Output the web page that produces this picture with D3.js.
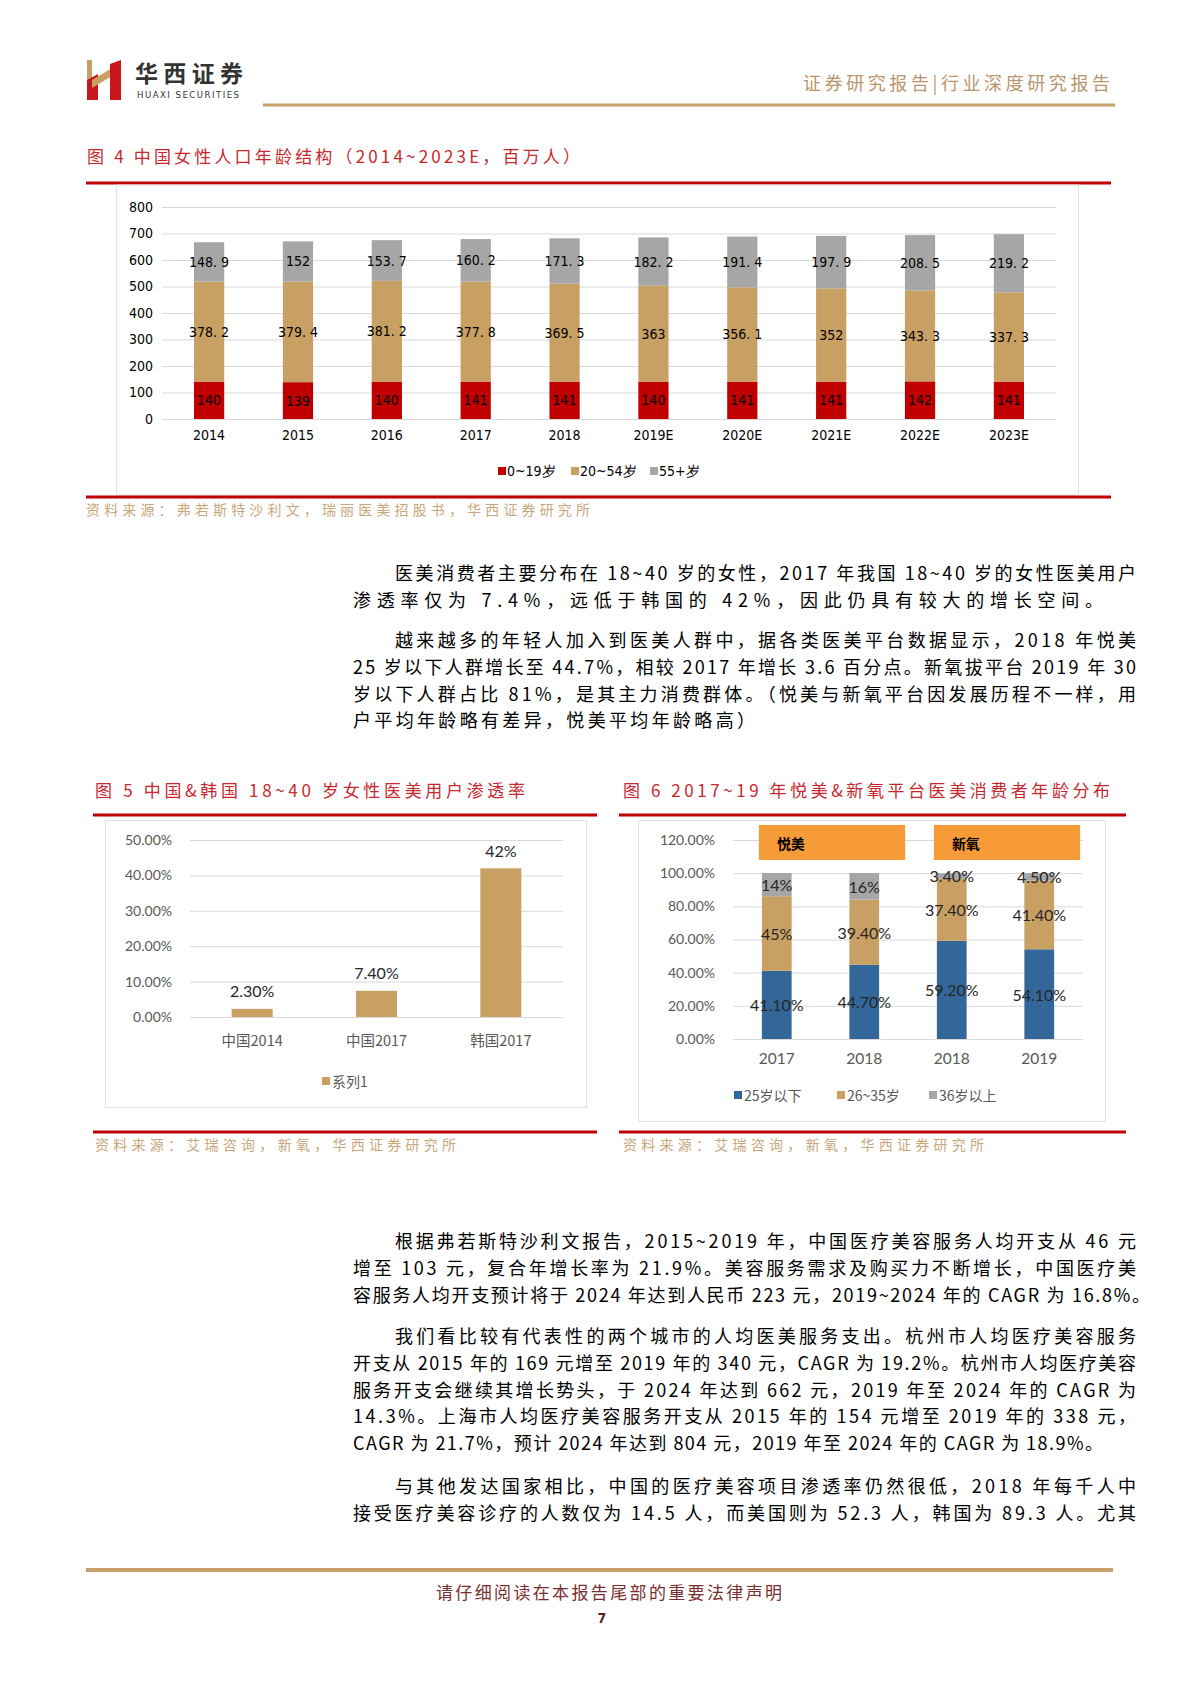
<!DOCTYPE html>
<html><head><meta charset="utf-8">
<script src="https://cdn.jsdelivr.net/npm/d3@7"></script>
<style>body{margin:0;background:#fff}svg{display:block}</style>
</head><body><svg id="page" width="1200" height="1698"></svg>
<script>
// ---------------- DATA ----------------
const years4 = ["2014","2015","2016","2017","2018","2019E","2020E","2021E","2022E","2023E"];
const age0to19 = [140,139,140,141,141,140,141,141,142,141];
const age20to54 = [378.2,379.4,381.2,377.8,369.5,363,356.1,352,343.3,337.3];
const age55plus = [148.9,152,153.7,160.2,171.3,182.2,191.4,197.9,208.5,219.2];
const series4 = ["0~19岁","20~54岁","55+岁"];
const ticks4 = [0,100,200,300,400,500,600,700,800];

const cats5 = ["中国2014","中国2017","韩国2017"];
const vals5 = [0.023,0.074,0.42];
const labels5 = ["2.30%","7.40%","42%"];
const ticks5 = [0,0.1,0.2,0.3,0.4,0.5];
const series5 = "系列1";

const cats6 = ["2017","2018","2018","2019"];
const under25 = [41.1,44.7,59.2,54.1];
const age26to35 = [45,39.4,37.4,41.4];
const over36 = [14,16,3.4,4.5];
const series6 = ["25岁以下","26~35岁","36岁以上"];
const ticks6 = [0,20,40,60,80,100,120];
const platforms6 = ["悦美","新氧"];

const para1 = ["医美消费者主要分布在 18~40 岁的女性，2017 年我国 18~40 岁的女性医美用户",
  "渗透率仅为 7.4%，远低于韩国的 42%，因此仍具有较大的增长空间。"];
const para2 = ["越来越多的年轻人加入到医美人群中，据各类医美平台数据显示，2018 年悦美",
  "25 岁以下人群增长至 44.7%，相较 2017 年增长 3.6 百分点。新氧拔平台 2019 年 30",
  "岁以下人群占比 81%，是其主力消费群体。（悦美与新氧平台因发展历程不一样，用",
  "户平均年龄略有差异，悦美平均年龄略高）"];
const para3 = ["根据弗若斯特沙利文报告，2015~2019 年，中国医疗美容服务人均开支从 46 元",
  "增至 103 元，复合年增长率为 21.9%。美容服务需求及购买力不断增长，中国医疗美",
  "容服务人均开支预计将于 2024 年达到人民币 223 元，2019~2024 年的 CAGR 为 16.8%。"];
const para4 = ["我们看比较有代表性的两个城市的人均医美服务支出。杭州市人均医疗美容服务",
  "开支从 2015 年的 169 元增至 2019 年的 340 元，CAGR 为 19.2%。杭州市人均医疗美容",
  "服务开支会继续其增长势头，于 2024 年达到 662 元，2019 年至 2024 年的 CAGR 为",
  "14.3%。上海市人均医疗美容服务开支从 2015 年的 154 元增至 2019 年的 338 元，",
  "CAGR 为 21.7%，预计 2024 年达到 804 元，2019 年至 2024 年的 CAGR 为 18.9%。"];
const para5 = ["与其他发达国家相比，中国的医疗美容项目渗透率仍然很低，2018 年每千人中",
  "接受医疗美容诊疗的人数仅为 14.5 人，而美国则为 52.3 人，韩国为 89.3 人。尤其"];

// ---------------- HELPERS ----------------
const svg = d3.select("#page");
svg.append("rect").attr("width",1200).attr("height",1698).attr("fill","#fff");
const CJK = '"Noto Sans CJK SC","Noto Sans",sans-serif';
const NARROW = '"Liberation Sans Narrow","Arial Narrow","DejaVu Sans Condensed","Roboto",sans-serif';
const LATO = 'Lato,"Noto Sans CJK SC",sans-serif';
const RED = "#c00000", TAN = "#c9a063", GRAY = "#a6a6a6", BLUE = "#336699";
const TITLE = "#c8282d", SRC = "#c9a77c";

function txt(g, x, y, s, o = {}) {
  const t = g.append("text").attr("x", x).attr("y", y).text(s)
    .attr("font-family", o.font || CJK).attr("font-size", o.size || 18)
    .attr("fill", o.fill || "#000").attr("dominant-baseline", "central");
  if (o.len) t.attr("textLength", o.len).attr("lengthAdjust", "spacing");
  if (o.anchor) t.attr("text-anchor", o.anchor);
  if (o.weight) t.attr("font-weight", o.weight);
  return t;
}

// ---------------- HEADER ----------------
const hd = svg.append("g");
hd.append("rect").attr("x",87).attr("y",60).attr("width",5).attr("height",22).attr("fill","#c9a063");
hd.append("polygon").attr("points","87,80 98,74 98,100 87,100").attr("fill","#c8161d");
hd.append("polygon").attr("points","92,80 112,68 112,76 92,88").attr("fill","#c9a063");
hd.append("polygon").attr("points","110,64 121,60 121,100 110,100").attr("fill","#c8161d");
txt(hd, 135, 72, "华西证券", {size:23, fill:"#333", len:108, weight:"bold"});
txt(hd, 137, 94, "HUAXI SECURITIES", {size:9.5, fill:"#333", font:NARROW, len:102});
txt(hd, 803, 82, "证券研究报告|行业深度研究报告", {size:18, fill:"#b8956a", len:307});
hd.append("rect").attr("x",263).attr("y",103.5).attr("width",852).attr("height",3).attr("fill","#c8a06a");

// ---------------- FIGURE 4 ----------------
const f4 = svg.append("g");
txt(f4, 87, 155, "图 4   中国女性人口年龄结构（2014~2023E，百万人）", {size:17, fill:TITLE, len:493});
f4.append("rect").attr("x",86).attr("y",181.5).attr("width",1025).attr("height",3).attr("fill",RED);
f4.append("rect").attr("x",116.5).attr("y",185).attr("width",962).attr("height",310).attr("fill","none").attr("stroke","#e3e3e3");
f4.append("rect").attr("x",86).attr("y",495.5).attr("width",1025).attr("height",3).attr("fill",RED);
txt(f4, 86, 509, "资料来源：弗若斯特沙利文，瑞丽医美招股书，华西证券研究所", {size:14, fill:SRC, len:504});

const x4 = d3.scaleBand().domain(years4).range([162,1056]).paddingInner(0.66).paddingOuter(0.36);
const y4 = d3.scaleLinear().domain([0,800]).range([419,207]);
const ya4 = f4.append("g").attr("transform","translate(162,0)")
  .call(d3.axisLeft(y4).tickValues(ticks4).tickSize(-894).tickPadding(9));
ya4.select(".domain").remove();
ya4.selectAll("line").attr("stroke","#d9d9d9");
ya4.selectAll("text").attr("font-family",NARROW).attr("font-size",14).attr("fill","#000");
const xa4 = f4.append("g").attr("transform","translate(0,419)")
  .call(d3.axisBottom(x4).tickSize(0).tickPadding(11));
xa4.select(".domain").remove();
xa4.selectAll("text").attr("font-family",NARROW).attr("font-size",14).attr("fill","#000");

const rows4 = years4.map((y,i)=>({year:y, a:age0to19[i], b:age20to54[i], c:age55plus[i]}));
const keys4 = ["a","b","c"];
const stack4 = d3.stack().keys(keys4)(rows4);
const cols4 = [RED, TAN, GRAY];
const fmt4 = v => String(v).replace(".", ". ");
stack4.forEach((s,k)=>{
  const key = keys4[k];
  const g = f4.append("g");
  g.selectAll("rect").data(s).join("rect")
    .attr("x", d=>x4(d.data.year)).attr("width", x4.bandwidth())
    .attr("y", d=>y4(d[1])).attr("height", d=>y4(d[0])-y4(d[1])).attr("fill", cols4[k]);
  g.selectAll("text").data(s).join("text")
    .attr("x", d=>x4(d.data.year)+x4.bandwidth()/2).attr("y", d=>y4((d[0]+d[1])/2))
    .attr("text-anchor","middle").attr("dominant-baseline","central")
    .attr("font-family",NARROW).attr("font-size",14).attr("fill","#000")
    .text(d=>fmt4(d.data[key]));
});
const lg4x = [498, 571, 650];
series4.forEach((s,i)=>{
  f4.append("rect").attr("x",lg4x[i]).attr("y",467).attr("width",8).attr("height",8).attr("fill",cols4[i]);
  txt(f4, lg4x[i]+9, 471, s, {size:14, font:NARROW});
});

// ---------------- PARAGRAPHS ----------------
const tx = svg.append("g");
function para(lines, y0, lastLen) {
  lines.forEach((l,i)=>{
    const x = i===0 ? 395 : 353;
    const len = i===lines.length-1 && lastLen ? lastLen : 1136 - x;
    txt(tx, x, y0 + i*26.8, l, {size:18, len});
  });
}
para(para1, 572, 750);
para(para2, 639, 402);
para(para3, 1240, 797);
para(para4, 1335, 750);
para(para5, 1485, null);

// ---------------- FIGURE 5 ----------------
const f5 = svg.append("g");
txt(f5, 95, 789, "图 5    中国&韩国 18~40 岁女性医美用户渗透率", {size:17, fill:TITLE, len:430});
f5.append("rect").attr("x",93).attr("y",813.5).attr("width",504).attr("height",3).attr("fill",RED);
f5.append("rect").attr("x",105.5).attr("y",820.5).attr("width",481).attr("height",287).attr("fill","none").attr("stroke","#e3e3e3");
f5.append("rect").attr("x",93).attr("y",1130.5).attr("width",504).attr("height",3).attr("fill",RED);
txt(f5, 95, 1144, "资料来源：艾瑞咨询，新氧，华西证券研究所", {size:14, fill:SRC, len:361});

const x5 = d3.scaleBand().domain(cats5).range([190,563]).paddingInner(0.67).paddingOuter(0.335);
const y5 = d3.scaleLinear().domain([0,0.5]).range([1017,840]);
const ya5 = f5.append("g").attr("transform","translate(190,0)")
  .call(d3.axisLeft(y5).tickValues(ticks5).tickSize(-373).tickPadding(18).tickFormat(d3.format(".2%")));
ya5.select(".domain").remove();
ya5.selectAll("line").attr("stroke","#d9d9d9");
ya5.selectAll("text").attr("font-family",LATO).attr("font-size",14).attr("fill","#595959");
const xa5 = f5.append("g").attr("transform","translate(0,1017)")
  .call(d3.axisBottom(x5).tickSize(0).tickPadding(19));
xa5.select(".domain").remove();
xa5.selectAll("text").attr("font-family",CJK).attr("font-size",14.5).attr("fill","#595959");
f5.selectAll(".b5").data(vals5).join("rect")
  .attr("x",(d,i)=>x5(cats5[i])).attr("width",x5.bandwidth())
  .attr("y",d=>y5(d)).attr("height",d=>y5(0)-y5(d)).attr("fill",TAN);
f5.selectAll(".l5").data(vals5).join("text")
  .attr("x",(d,i)=>x5(cats5[i])+x5.bandwidth()/2).attr("y",d=>y5(d)-18)
  .attr("text-anchor","middle").attr("dominant-baseline","central")
  .attr("font-family",LATO).attr("font-size",16).attr("fill","#262626").text((d,i)=>labels5[i]);
f5.append("rect").attr("x",322).attr("y",1077).attr("width",8).attr("height",8).attr("fill",TAN);
txt(f5, 332, 1081, series5, {size:14, fill:"#595959"});

// ---------------- FIGURE 6 ----------------
const f6 = svg.append("g");
txt(f6, 623, 789, "图 6   2017~19 年悦美&新氧平台医美消费者年龄分布", {size:17, fill:TITLE, len:487});
f6.append("rect").attr("x",619).attr("y",813.5).attr("width",507).attr("height",3).attr("fill",RED);
f6.append("rect").attr("x",638.5).attr("y",820.5).attr("width",467).attr("height",301).attr("fill","none").attr("stroke","#e3e3e3");
f6.append("rect").attr("x",619).attr("y",1130.5).attr("width",507).attr("height",3).attr("fill",RED);
txt(f6, 623, 1144, "资料来源：艾瑞咨询，新氧，华西证券研究所", {size:14, fill:SRC, len:361});

const idx6 = d3.range(cats6.length);
const x6 = d3.scaleBand().domain(idx6).range([733,1083]).paddingInner(0.66).paddingOuter(0.33);
const y6 = d3.scaleLinear().domain([0,120]).range([1039,840]);
const ya6 = f6.append("g").attr("transform","translate(733,0)")
  .call(d3.axisLeft(y6).tickValues(ticks6).tickSize(-350).tickPadding(18).tickFormat(d=>d.toFixed(2)+"%"));
ya6.select(".domain").remove();
ya6.selectAll("line").attr("stroke","#d9d9d9");
ya6.selectAll("text").attr("font-family",LATO).attr("font-size",14).attr("fill","#595959");
const xa6 = f6.append("g").attr("transform","translate(0,1039)")
  .call(d3.axisBottom(x6).tickSize(0).tickPadding(14).tickFormat(i=>cats6[i]));
xa6.select(".domain").remove();
xa6.selectAll("text").attr("font-family",LATO).attr("font-size",15.5).attr("fill","#595959");

const rows6 = idx6.map(i=>({i, a:under25[i], b:age26to35[i], c:over36[i]}));
const stack6 = d3.stack().keys(["a","b","c"])(rows6);
const cols6 = [BLUE, TAN, GRAY];
const fmt6 = v => (Math.abs(v - Math.round(v)) < 1e-9 ? Math.round(v) : v.toFixed(2)) + "%";
stack6.forEach((s,k)=>{
  const key = ["a","b","c"][k];
  const g = f6.append("g");
  g.selectAll("rect").data(s).join("rect")
    .attr("x", d=>x6(d.data.i)).attr("width", x6.bandwidth())
    .attr("y", d=>y6(d[1])).attr("height", d=>y6(d[0])-y6(d[1])).attr("fill", cols6[k]);
  g.selectAll("text").data(s).join("text")
    .attr("x", d=>x6(d.data.i)+x6.bandwidth()/2).attr("y", d=>y6((d[0]+d[1])/2))
    .attr("text-anchor","middle").attr("dominant-baseline","central")
    .attr("font-family",LATO).attr("font-size",16).attr("fill","#262626")
    .text(d=>fmt6(d.data[key]));
});
// platform header boxes
const boxes6 = [{name:platforms6[0], from:0, to:1}, {name:platforms6[1], from:2, to:3}];
boxes6.forEach(b=>{
  const x0 = x6(b.from) - 3, x1 = x6(b.to) + x6.bandwidth() + 26;
  f6.append("rect").attr("x",x0).attr("y",825).attr("width",x1-x0).attr("height",35).attr("fill","#f79b38");
  txt(f6, x0+18, 843, b.name, {size:14, weight:"bold"});
});
const lg6x = [734, 837, 929];
series6.forEach((s,i)=>{
  f6.append("rect").attr("x",lg6x[i]).attr("y",1091).attr("width",8).attr("height",8).attr("fill",cols6[i]);
  txt(f6, lg6x[i]+10, 1095, s, {size:14, fill:"#595959"});
});

// ---------------- FOOTER ----------------
const ft = svg.append("g");
ft.append("rect").attr("x",86).attr("y",1568).attr("width",1027).attr("height",4).attr("fill","#c8a06a");
txt(ft, 609, 1591, "请仔细阅读在本报告尾部的重要法律声明", {size:17, fill:"#7a2e2e", anchor:"middle", len:346});
txt(ft, 602, 1618, "7", {size:14, fill:"#5a1e1e", weight:"bold", font:NARROW, anchor:"middle"});
</script>
</body></html>
